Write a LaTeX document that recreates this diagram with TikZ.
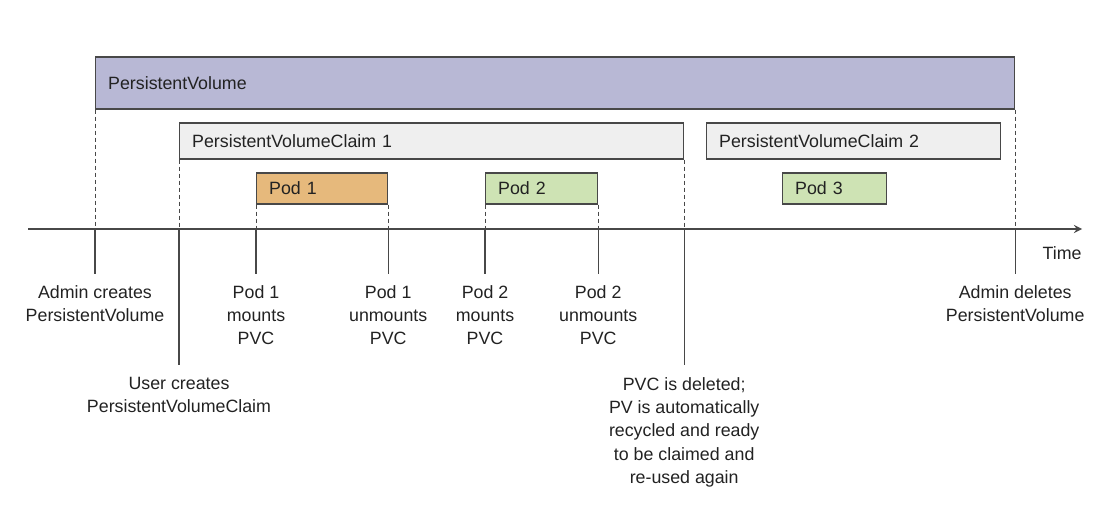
\documentclass[tikz,border=0pt]{standalone}
\usepackage{fontspec}
\setmainfont{Liberation Sans}
\usetikzlibrary{arrows,positioning}
\definecolor{pvfill}{HTML}{B8B8D5}
\definecolor{pvcfill}{HTML}{EFEFEF}
\definecolor{podorange}{HTML}{E6B97C}
\definecolor{podgreen}{HTML}{CEE3B4}
\definecolor{edge}{HTML}{484848}
\definecolor{ink}{HTML}{222222}
\tikzset
{
    spanbox/.style 2 args = {rectangle, draw=edge, fill=#1, anchor=west, align=left, text width=#2, inner xsep=6.3pt, inner ysep=0pt, line width=0.6pt},
    eventlabel/.style = {anchor=north, align=center, inner sep=0pt},
    guide/.style = {draw=edge, dash pattern=on 2pt off 1.5pt, line width=0.5pt},
    tickline/.style = {draw=edge, line width=0.55pt},
    arrow/.style = {draw=edge, line width=0.8pt, ->, >=stealth}
}

\begin{document}
\begin{tikzpicture}[x=0.5pt, y=-0.5pt, font=\fontsize{8.9}{11.65}\selectfont, text=ink]
   \useasboundingbox (0,0) rectangle (1118,524);

   % volume, claims and pods
   \node (pv)   [spanbox={pvfill}{446.9pt}, minimum height=26pt]      at (95, 83)     {PersistentVolume};
   \node (pvc1) [spanbox={pvcfill}{239.4pt}, minimum height=18pt]     at (179, 141)   {PersistentVolumeClaim 1};
   \node (pvc2) [spanbox={pvcfill}{134.4pt}, minimum height=18pt]     at (706, 141)   {PersistentVolumeClaim 2};
   \node (pod1) [spanbox={podorange}{52.9pt}, minimum height=15.5pt]  at (256, 188.5) {Pod 1};
   \node (pod2) [spanbox={podgreen}{43.4pt}, minimum height=15.5pt]   at (485, 188.5) {Pod 2};
   \node (pod3) [spanbox={podgreen}{39.4pt}, minimum height=15.5pt]   at (782, 188.5) {Pod 3};

   % time axis
   \coordinate (axl)   at (28, 229);
   \coordinate (axr)   at (1082, 229);
   \coordinate (short) at (0, 274);
   \coordinate (long)  at (0, 365);
   \draw[arrow] (axl) -- (axr);
   \node (time) [anchor=base east, inner sep=0pt] at (1082, 259) {Time};

   \coordinate (t1) at (pv.south west |- axl);
   \coordinate (t2) at (pvc1.south west |- axl);
   \coordinate (t3) at (pod1.south west |- axl);
   \coordinate (t4) at (pod1.south east |- axl);
   \coordinate (t5) at (pod2.south west |- axl);
   \coordinate (t6) at (pod2.south east |- axl);
   \coordinate (t7) at (pvc1.south east |- axl);
   \coordinate (t8) at (pv.south east |- axl);

   \coordinate (b1) at (t1 |- short);
   \coordinate (b2) at (t2 |- long);
   \coordinate (b3) at (t3 |- short);
   \coordinate (b4) at (t4 |- short);
   \coordinate (b5) at (t5 |- short);
   \coordinate (b6) at (t6 |- short);
   \coordinate (b7) at (t7 |- long);
   \coordinate (b8) at (t8 |- short);

   % events
   \node (l1) [eventlabel] at ([yshift=-5.5pt]b1) {Admin creates\\PersistentVolume};
   \node (l2) [eventlabel] at ([yshift=-6pt]b2)   {User creates\\PersistentVolumeClaim};
   \node (l3) [eventlabel] at ([yshift=-5.5pt]b3) {Pod 1\\mounts\\PVC};
   \node (l4) [eventlabel] at ([yshift=-5.5pt]b4) {Pod 1\\unmounts\\PVC};
   \node (l5) [eventlabel] at ([yshift=-5.5pt]b5) {Pod 2\\mounts\\PVC};
   \node (l6) [eventlabel] at ([yshift=-5.5pt]b6) {Pod 2\\unmounts\\PVC};
   \node (l7) [eventlabel] at ([yshift=-6pt]b7)   {PVC is deleted;\\PV is automatically\\recycled and ready\\to be claimed and\\re-used again};
   \node (l8) [eventlabel] at ([yshift=-5.5pt]b8) {Admin deletes\\PersistentVolume};

   \draw[guide]
      (pv.south west)   -- (t1)
      (pvc1.south west) -- (t2)
      (pod1.south west) -- (t3)
      (pod1.south east) -- (t4)
      (pod2.south west) -- (t5)
      (pod2.south east) -- (t6)
      (pvc1.south east) -- (t7)
      (pv.south east)   -- (t8);

   \draw[tickline]
      (t1) -- (b1)
      (t2) -- (b2)
      (t3) -- (b3)
      (t4) -- (b4)
      (t5) -- (b5)
      (t6) -- (b6)
      (t7) -- (b7)
      (t8) -- (b8);
\end{tikzpicture}
\end{document}
